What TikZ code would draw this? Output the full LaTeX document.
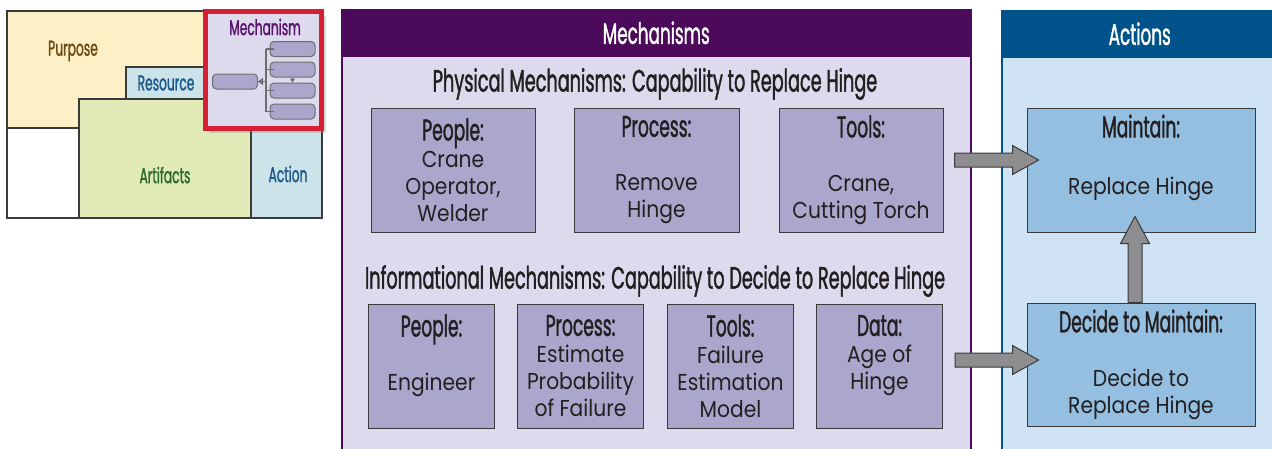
\documentclass[tikz,border=0pt]{standalone}
\usepackage{fontspec}
\setmainfont{Poppins}[FakeStretch=0.88]
\newfontfamily\condfont{Poppins}[FakeStretch=0.57,FakeBold=1.2]
\usepackage{xcolor}
\usepackage{tikz}
\usetikzlibrary{positioning,calc,shadows,arrows.meta}

\definecolor{mechdark}{HTML}{4B0A5A}
\definecolor{mechbg}{HTML}{DCDAEC}
\definecolor{mechfill}{HTML}{ABA6CC}
\definecolor{actdark}{HTML}{00528A}
\definecolor{actbg}{HTML}{CFE3F5}
\definecolor{actfill}{HTML}{94BFE0}
\definecolor{arrowgray}{HTML}{8E8E90}
\definecolor{edgegray}{HTML}{3A3A3A}
\definecolor{minigray}{HTML}{6E6E6E}
\definecolor{inkdark}{HTML}{231F20}
\definecolor{purposebg}{HTML}{FDF0C6}
\definecolor{purposeink}{HTML}{6B4B12}
\definecolor{resbg}{HTML}{CCE3EA}
\definecolor{resink}{HTML}{1C5A8C}
\definecolor{artbg}{HTML}{E2EAB8}
\definecolor{artink}{HTML}{2A6A30}
\definecolor{insetred}{HTML}{D61F33}
\definecolor{insetink}{HTML}{5A1470}

\newcommand{\hd}[1]{{\condfont\fontsize{30}{27}\selectfont #1}}

% fat gray arrows, start point and tip
\newcommand{\blockright}[2]{%
  \draw[blockarrow] let \p1=(#1), \p2=(#2) in
    (\x1,\y1+7pt) -- (\x2-26pt,\y1+7pt) -- (\x2-26pt,\y1+14.5pt) -- (\x2,\y1)
    -- (\x2-26pt,\y1-14.5pt) -- (\x2-26pt,\y1-7pt) -- (\x1,\y1-7pt) -- cycle;}
\newcommand{\blockup}[2]{%
  \draw[blockarrow] let \p1=(#1), \p2=(#2) in
    (\x1-7pt,\y1) -- (\x1-7pt,\y2-27pt) -- (\x1-14.5pt,\y2-27pt) -- (\x1,\y2)
    -- (\x1+14.5pt,\y2-27pt) -- (\x1+7pt,\y2-27pt) -- (\x1+7pt,\y1) -- cycle;}

\tikzset{
  panel/.style={draw, line width=1.5pt, anchor=north west, inner sep=0pt},
  headbar/.style={draw, line width=1.5pt, anchor=north west, minimum height=46pt,
    inner sep=0pt, text=white, font=\condfont\fontsize{29.5}{30}\selectfont},
  sectitle/.style={text=inkdark, font=\condfont\fontsize{31}{32}\selectfont},
  mbox/.style={draw=edgegray, line width=1pt, fill=mechfill, minimum height=124pt,
    inner sep=0pt, align=center, text=inkdark, font=\fontsize{23}{27}\selectfont},
  abox/.style={mbox, fill=actfill, minimum width=228pt},
  blockarrow/.style={draw=edgegray, fill=arrowgray, line width=1pt},
  insetline/.style={draw=edgegray, line width=1.3pt},
  insetlabel/.style={font=\condfont\fontsize{21.5}{22}\selectfont},
  mini/.style={draw=minigray, fill=mechfill, rounded corners=4pt, line width=1pt,
    minimum width=45pt, minimum height=15pt, inner sep=0pt},
  spine/.style={draw=minigray, line width=1.5pt}
}

\begin{document}
\begin{tikzpicture}[x=1pt,y=-1pt]
  \useasboundingbox (0,0) rectangle (1272,448);
  \clip (0,0) rectangle (1272,448);

  % small overview in the corner
  \draw[insetline, fill=white] (7,11) rectangle (322,218);
  \draw[insetline, fill=purposebg] (7,11) rectangle (322,128);
  \draw[insetline, fill=resbg] (126,67) rectangle (252,100);
  \draw[insetline, fill=resbg] (251,67) rectangle (322,218);
  \draw[insetline, fill=artbg] (79,99) rectangle (251,218);
  \node[insetlabel, text=purposeink] (purposelbl) at (73,51) {Purpose};
  \node[insetlabel, text=resink] (reslbl) at (166,83) {Resource};
  \node[insetlabel, text=artink] (artlbl) at (165,175) {Artifacts};
  \node[insetlabel, text=resink] (actlbl) at (288,174) {Action};

  \draw[draw=insetred, line width=5pt, fill=mechbg,
    drop shadow={shadow xshift=4pt, shadow yshift=-4pt, opacity=0.3}]
    (205.5,11.5) rectangle (321.5,128.5);
  \node[insetlabel, text=insetink] (mechlbl) at (265,27) {Mechanism};
  \node[mini] (m0) at (235,81.5) {};
  \foreach \i/\yy in {1/49,2/69.5,3/90.5,4/111.5} {
    \node[mini] (m\i) at (292.5,\yy) {};
    \coordinate (s\i) at (266,\yy);
    \draw[spine] (s\i) -- ($(m\i.west)+(4,0)$);
  }
  \draw[spine] (s1) -- (s4);
  \draw[spine, -{Triangle[length=5pt,width=7pt]}] (m0.east -| s1) -- (m0.east);
  \draw[spine, line width=1pt, -{Triangle[length=4pt,width=5pt]}] (m2.south) -- (m3.north);

  % mechanisms panel
  \node[panel, draw=mechdark, fill=mechbg, minimum width=629pt, minimum height=470pt] (mechs) at (341,9) {};
  \node[headbar, draw=mechdark, fill=mechdark, minimum width=629pt] (mechhead) at (mechs.north west) {Mechanisms};

  \node[sectitle] (phystitle) at (655,84) {Physical Mechanisms: Capability to Replace Hinge};
  \node[mbox, minimum width=164pt] (people1) at (453,170) {\hd{People:}\\Crane\\Operator,\\Welder};
  \node[mbox, minimum width=165pt, right=38pt of people1] (process1) {\hd{Process:}\\\mbox{}\\Remove\\Hinge};
  \node[mbox, minimum width=164pt, right=39pt of process1] (tools1) {\hd{Tools:}\\\mbox{}\\Crane,\\Cutting Torch};

  \node[sectitle] (infotitle) at (655,281) {Informational Mechanisms: Capability to Decide to Replace Hinge};
  \node[mbox, minimum width=126pt] (people2) at (431.5,366) {\hd{People:}\\\mbox{}\\Engineer\\\mbox{}};
  \node[mbox, minimum width=126pt, right=22pt of people2] (process2) {\hd{Process:}\\Estimate\\Probability\\of Failure};
  \node[mbox, minimum width=126pt, right=23pt of process2] (tools2) {\hd{Tools:}\\Failure\\Estimation\\Model};
  \node[mbox, minimum width=126pt, right=22pt of tools2] (data2) {\hd{Data:}\\Age of\\Hinge\\\mbox{}};

  % actions panel
  \node[panel, draw=actdark, fill=actbg, minimum width=276pt, minimum height=470pt] (acts) at (1001,10) {};
  \node[headbar, draw=actdark, fill=actdark, minimum width=276pt] (acthead) at (acts.north west) {Actions};

  \node[abox] (maintain) at (1141,170) {\hd{Maintain:}\\\mbox{}\\[3pt]Replace Hinge\\[4pt]\mbox{}};
  \node[abox, minimum height=123pt] (decide) at (1141,364.5) {\hd{Decide to Maintain:}\\\mbox{}\\Decide to\\Replace Hinge};

  % arrows
  \coordinate (physout) at ($(tools1.east)+(11,-10)$);
  \coordinate (infoout) at ($(data2.east)+(12,-6)$);
  \blockright{physout}{$(maintain.west |- physout)+(12,0)$}
  \blockright{infoout}{$(decide.west |- infoout)+(12,0)$}
  \blockup{$(decide.north)+(-6,0)$}{$(maintain.south)+(-6,-16)$}
\end{tikzpicture}
\end{document}
